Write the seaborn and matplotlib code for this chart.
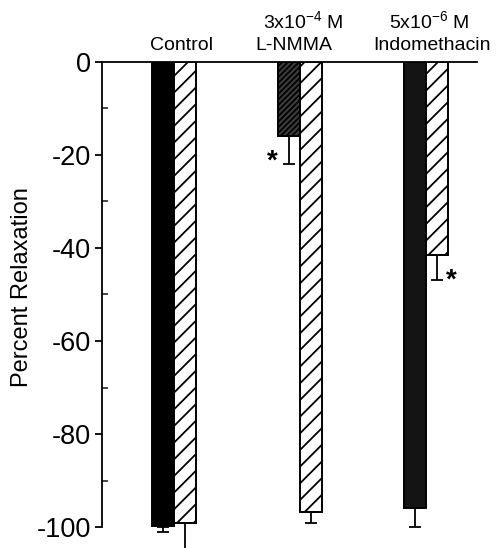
import matplotlib
matplotlib.use("Agg")
import matplotlib.pyplot as plt
from matplotlib.ticker import MultipleLocator
import seaborn as sns
import pandas as pd

# ---- data ----
groups = ["Control", "L-NMMA", "Indomethacin"]
group_top_lines = ["", "3x10$^{-4}$ M", "5x10$^{-6}$ M"]
conditions = ["A", "B"]
values_a = [-100.0, -16.0, -96.0]
errors_a = [1.0, 6.0, 4.0]
values_b = [-99.2, -96.8, -41.6]
errors_b = [6.0, 2.4, 5.2]
signif_a = [False, True, False]
signif_b = [False, False, True]
yticks = [0, -20, -40, -60, -80, -100]

df = pd.DataFrame({
    "group": groups * 2,
    "cond": [conditions[0]] * 3 + [conditions[1]] * 3,
    "value": values_a + values_b,
})

sns.set_theme(style="white")
plt.rcParams["font.family"] = ["Liberation Sans", "DejaVu Sans"]
plt.rcParams["mathtext.fontset"] = "custom"
plt.rcParams["mathtext.rm"] = "Liberation Sans"
plt.rcParams["mathtext.default"] = "regular"
plt.rcParams["hatch.linewidth"] = 1.3
plt.rcParams["hatch.color"] = "black"

fig = plt.figure(figsize=(4.99, 5.48), dpi=100)
ax = fig.add_axes([0.2044, 0.0383, 0.7515, 0.8486])

sns.barplot(data=df, x="group", y="value", hue="cond", order=groups,
            hue_order=conditions, palette=["black", "white"], width=0.35,
            errorbar=None, dodge=True, legend=False, ax=ax,
            edgecolor="black", linewidth=1.4, saturation=1)

first_faces = ["black", "#3c3c3c", "#141414"]
first_hatch = [None, "//////", None]
cont_a, cont_b = ax.containers[0], ax.containers[1]
for i, bar in enumerate(cont_a):
    bar.set_facecolor(first_faces[i])
    if first_hatch[i]:
        bar.set_hatch(first_hatch[i])
for bar in cont_b:
    bar.set_facecolor("white")
    bar.set_hatch("//")

def add_err(container, vals, errs, sig, offs):
    for bar, v, e, s in zip(container, vals, errs, sig):
        xc = bar.get_x() + bar.get_width() / 2
        ax.errorbar([xc], [v], yerr=[[e], [0]], fmt="none", ecolor="black",
                    elinewidth=1.3, capsize=4.5, capthick=1.3, clip_on=False,
                    zorder=1)
        if s:
            ax.annotate("*", xy=(xc, v - e), xytext=offs,
                        textcoords="offset points", ha="center", va="center",
                        fontsize=20, fontweight="bold", color="black",
                        annotation_clip=False)

add_err(cont_a, values_a, errors_a, signif_a, (-12, 2))
add_err(cont_b, values_b, errors_b, signif_b, (10, -1))

ax.set_ylim(-100, 0)
ax.set_xlim(-0.571, 2.405)
ax.set_yticks(yticks)
ax.set_yticklabels([str(t) for t in yticks], fontsize=19.5)
ax.yaxis.set_minor_locator(MultipleLocator(10))
ax.tick_params(axis="y", which="major", direction="out", length=5, width=1.3,
               left=True, pad=3, colors="black")
ax.tick_params(axis="y", which="minor", direction="in", length=4, width=1.2,
               left=True)
ax.set_xticks([])
ax.set_xlabel("")
ax.set_ylabel("Percent Relaxation", fontsize=17, color="black")
ax.yaxis.set_label_coords(-0.185, 0.516)

for side in ["right", "bottom"]:
    ax.spines[side].set_visible(False)
for side in ["left", "top"]:
    ax.spines[side].set_visible(True)
    ax.spines[side].set_color("black")
    ax.spines[side].set_linewidth(1.3)

trans = ax.get_xaxis_transform()
label_dx = [0.06, -0.05, 0.05]
for i, (g, t) in enumerate(zip(groups, group_top_lines)):
    ax.text(i + label_dx[i], 1.025, g, transform=trans, ha="center",
            va="baseline", fontsize=14, color="black")
    if t:
        ax.text(i + 0.03, 1.072, t, transform=trans, ha="center",
                va="baseline", fontsize=14, color="black")

fig.savefig("out.png", dpi=100)
